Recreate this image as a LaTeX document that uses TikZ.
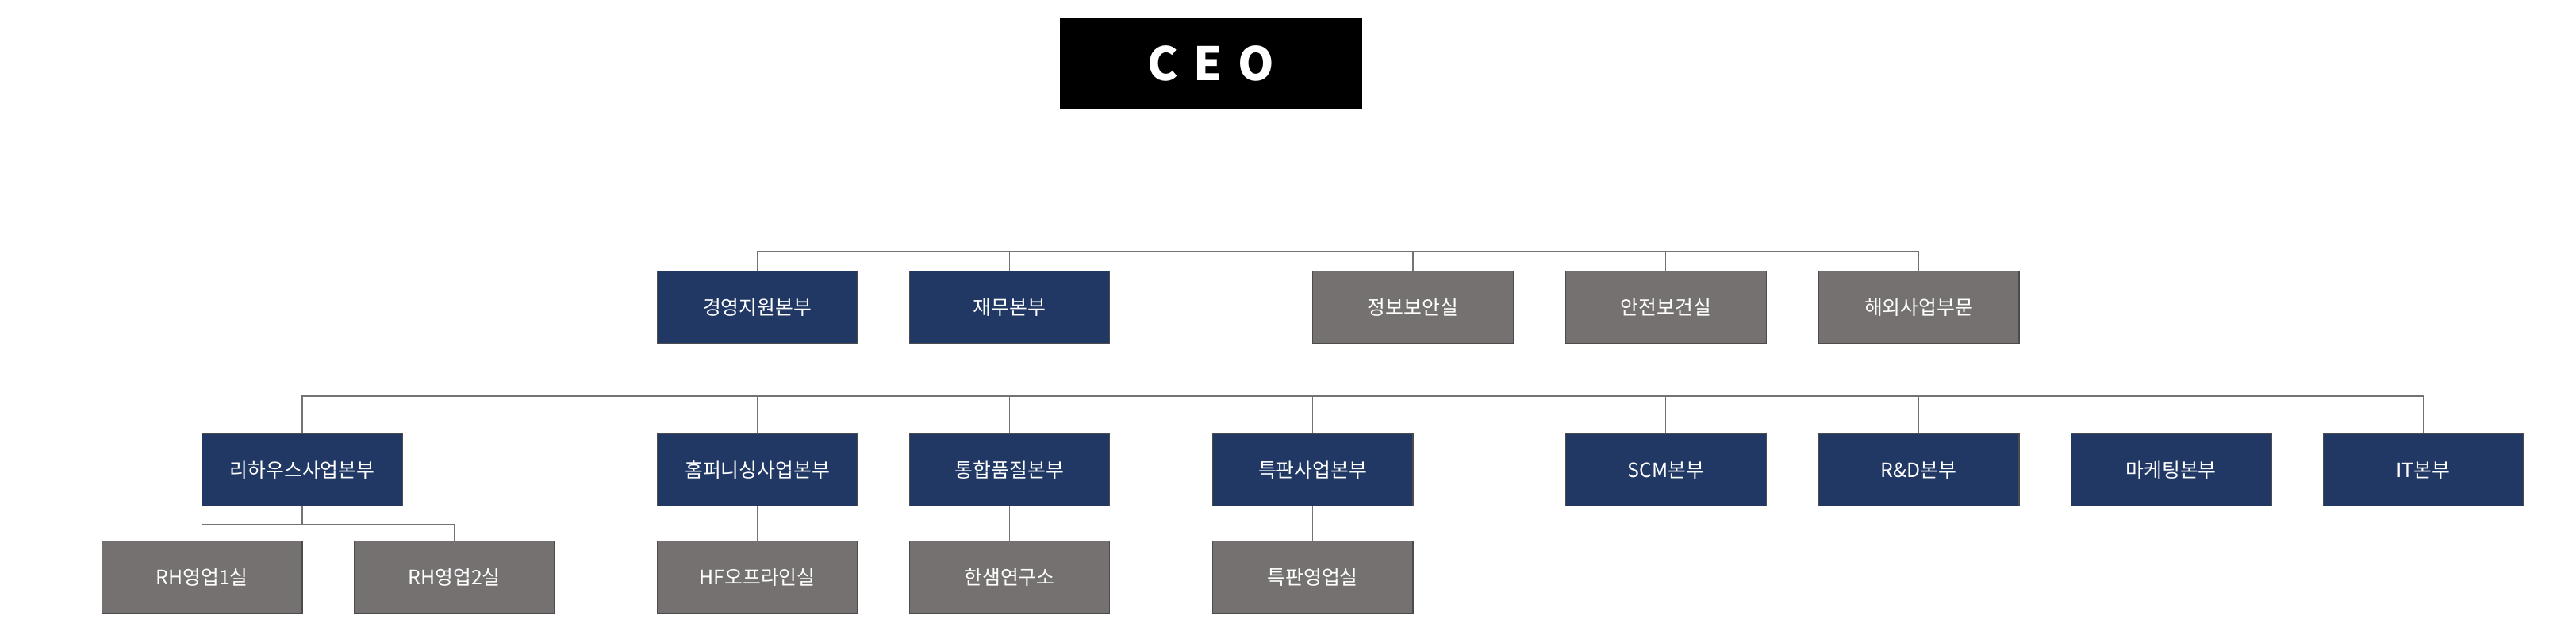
\documentclass[tikz,border=0pt]{standalone}
\usepackage{fontspec}
\setmainfont{Noto Sans CJK KR}
\definecolor{navy}{HTML}{213864}
\definecolor{gr}{HTML}{767171}
\begin{document}
\begin{tikzpicture}[x=1pt,y=-1pt,
 bx/.style={draw=black!70,line width=0.6pt,minimum width=122pt,minimum height=44pt,inner sep=0pt,text=white,font=\fontsize{12}{14}\selectfont},
 nv/.style={bx,fill=navy},
 gy/.style={bx,fill=gr},
 ln/.style={draw=black!55,line width=0.6pt}]
\useasboundingbox (0,0) rectangle (1568,386);
\node[fill=black,minimum width=184pt,minimum height=55pt,text=white,font=\fontsize{28}{30}\selectfont\bfseries] (ceo) at (737,38.5) {C\,\,E\,\,O};
\node[nv] (a1) at (461,187) {경영지원본부};
\node[nv] (a2) at (614.5,187) {재무본부};
\node[gy] (a3) at (860,187) {정보보안실};
\node[gy] (a4) at (1014,187) {안전보건실};
\node[gy] (a5) at (1168,187) {해외사업부문};
\node[nv] (b1) at (184,286) {리하우스사업본부};
\node[nv] (b2) at (461,286) {홈퍼니싱사업본부};
\node[nv] (b3) at (614.5,286) {통합품질본부};
\node[nv] (b4) at (799,286) {특판사업본부};
\node[nv] (b5) at (1014,286) {SCM본부};
\node[nv] (b6) at (1168,286) {R\&D본부};
\node[nv] (b7) at (1321.5,286) {마케팅본부};
\node[nv] (b8) at (1475,286) {IT본부};
\node[gy] (c1) at (123,351) {RH영업1실};
\node[gy] (c2) at (276.5,351) {RH영업2실};
\node[gy] (c3) at (461,351) {HF오프라인실};
\node[gy] (c4) at (614.5,351) {한샘연구소};
\node[gy] (c5) at (799,351) {특판영업실};
\coordinate (j1) at (737,153);
\coordinate (j2) at (737,241);
\coordinate (j3) at (184,319);
\draw[ln] (ceo.south) -- (j2);
\draw[ln] (a1.north) |- (j1) -| (a5.north);
\foreach \n in {a2,a3,a4} \draw[ln] (\n.north) -- ++(0,-12);
\draw[ln] (b1.north) |- (j2) -| (b8.north);
\foreach \n in {b2,b3,b4,b5,b6,b7} \draw[ln] (\n.north) -- ++(0,-23);
\draw[ln] (b1.south) -- (j3);
\draw[ln] (c1.north) |- (j3) -| (c2.north);
\draw[ln] (b2.south) -- (c3.north);
\draw[ln] (b3.south) -- (c4.north);
\draw[ln] (b4.south) -- (c5.north);
\end{tikzpicture}
\end{document}
